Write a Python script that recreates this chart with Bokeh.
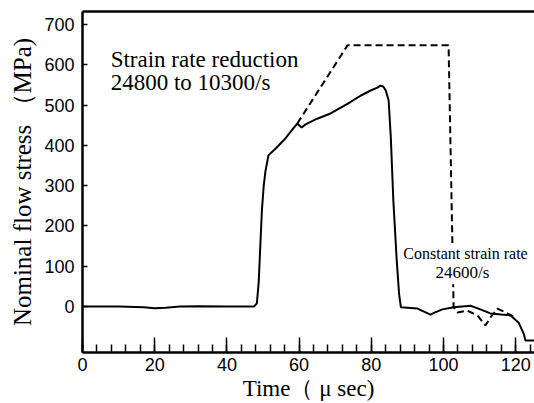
from bokeh.plotting import figure
from bokeh.models import LinearAxis, FixedTicker, Range1d, Label
from bokeh.embed import file_html
from bokeh.resources import INLINE

# measured curve (solid): time in microseconds, nominal flow stress in MPa
t_meas = [0, 10, 17, 20, 23, 27, 32, 40, 47.5, 48.3, 48.8, 49.3, 49.7, 50.2, 50.7, 51.5,
          53.5, 56.2, 59.0, 59.5, 60.7, 61.8, 65.0, 68.7, 73.4, 77.0, 79.8, 81.7, 82.5,
          83.3, 84.0, 84.8, 85.4, 86.1, 87.0, 87.7, 88.2, 92.8, 96.4, 97.5, 99.7, 102.8,
          107.5, 110.2, 113.0, 116.0, 118.6, 120.8, 122.2, 122.7, 125.5]
s_meas = [0, 0, -2, -4, -3, 0, 1, 0, 0, 8, 60, 160, 240, 300, 337, 375,
          392, 417, 449, 454, 444, 452, 466, 479, 503, 523, 536, 543, 548,
          546, 536, 511, 420, 263, 120, 30, -2, -5, -20, -15, -7, -2,
          2, -7, -17, -20, -22, -40, -67, -84, -84]

# ideal strain-rate-reduction curve (dashed)
t_ideal = [59.5, 73.4, 101.4, 102.8, 103.9, 106.6, 109.4, 111.6, 113.0, 114.9, 116.6, 119.4]
s_ideal = [454, 648, 648, -2, -15, -10, -22, -47, -27, -5, -12, -25]

x_ticks = [0, 20, 40, 60, 80, 100, 120]
y_ticks = [0, 100, 200, 300, 400, 500, 600, 700]

p = figure(width=534, height=403, output_backend="svg", toolbar_location=None,
           x_range=Range1d(0, 125.2), y_range=Range1d(-114, 732),
           min_border_left=82, min_border_right=0, min_border_top=11, min_border_bottom=51,
           x_axis_label="Time（ μ sec)", y_axis_label="Nominal flow stress （MPa)")
p.outline_line_color = None
p.grid.visible = False
p.background_fill_color = "white"
p.border_fill_color = "white"

# x axis
xa = p.xaxis[0]
xa.ticker = FixedTicker(ticks=x_ticks, minor_ticks=[v for v in range(0, 126, 4)])
xa.major_tick_in = 15
xa.major_tick_out = 0
xa.minor_tick_in = 8
xa.minor_tick_out = 0
xa.major_tick_line_width = 1.5
xa.minor_tick_line_width = 1.5
xa.major_tick_line_color = "black"
xa.minor_tick_line_color = "black"
xa.axis_line_width = 2.5
xa.axis_line_color = "black"
xa.major_label_text_font = "Liberation Sans"
xa.major_label_text_font_size = "18px"
xa.major_label_text_color = "black"
xa.major_label_standoff = 5
xa.axis_label_text_font = "Liberation Serif"
xa.axis_label_text_font_style = "normal"
xa.axis_label_text_font_size = "23px"
xa.axis_label_text_color = "black"
xa.axis_label_standoff = 2

# y axis
ya = p.yaxis[0]
ya.ticker = FixedTicker(ticks=y_ticks, minor_ticks=[])
ya.major_tick_in = 5
ya.major_tick_out = 0
ya.minor_tick_in = 0
ya.minor_tick_out = 0
ya.major_tick_line_width = 1.5
ya.major_tick_line_color = "black"
ya.axis_line_width = 2.5
ya.axis_line_color = "black"
ya.major_label_text_font = "Liberation Sans"
ya.major_label_text_font_size = "18px"
ya.major_label_text_color = "black"
ya.major_label_standoff = 8
ya.axis_label_text_font = "Liberation Serif"
ya.axis_label_text_font_style = "normal"
ya.axis_label_text_font_size = "25px"
ya.axis_label_text_color = "black"
ya.axis_label_standoff = 5

# top border line
top = LinearAxis(ticker=FixedTicker(ticks=[]), major_tick_in=0, major_tick_out=0,
                 minor_tick_in=0, minor_tick_out=0, major_label_text_font_size="0px",
                 axis_line_width=2.5, axis_line_color="black", major_label_standoff=0)
p.add_layout(top, "above")

p.line(t_meas, s_meas, line_color="black", line_width=2)
p.line(t_ideal, s_ideal, line_color="black", line_width=2, line_dash="7 4")

p.add_layout(Label(x=7.8, y=613, text="Strain rate reduction", text_font="Liberation Serif",
                   text_font_size="23px", text_color="black", text_baseline="alphabetic"))
p.add_layout(Label(x=7.8, y=556, text="24800 to 10300/s", text_font="Liberation Serif",
                   text_font_size="23px", text_color="black", text_baseline="alphabetic"))
p.add_layout(Label(x=88.3, y=131, text="Constant strain rate", text_font="Liberation Serif",
                   text_font_size="16px", text_color="black", text_baseline="alphabetic",
                   background_fill_color="white", padding=2))
p.add_layout(Label(x=97.2, y=84, text="24600/s", text_font="Liberation Serif",
                   text_font_size="17px", text_color="black", text_baseline="alphabetic",
                   background_fill_color="white", padding=2))

open("out.html", "w").write(file_html(p, INLINE))
